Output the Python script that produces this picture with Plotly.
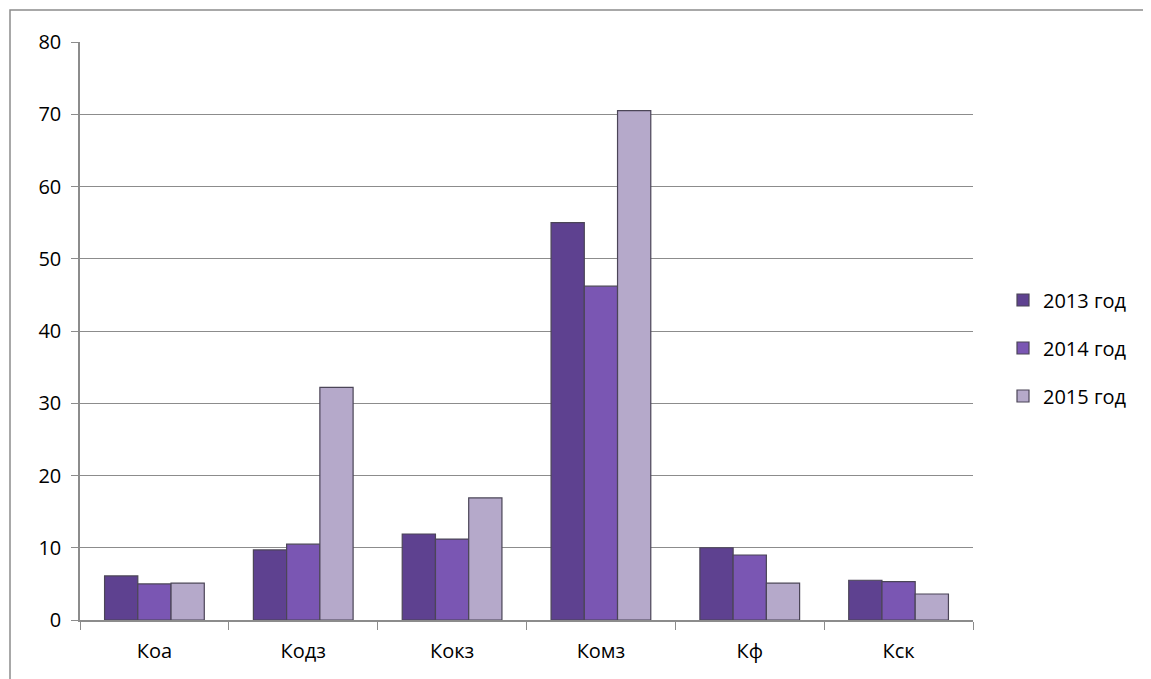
import plotly.graph_objects as go

categories = ["Коа", "Кодз", "Кокз", "Комз", "Кф", "Кск"]
series_names = ["2013 год", "2014 год", "2015 год"]
v2013 = [6.1, 9.7, 11.9, 55.0, 10.0, 5.5]
v2014 = [5.0, 10.5, 11.2, 46.2, 9.0, 5.3]
v2015 = [5.1, 32.2, 16.9, 70.5, 5.1, 3.6]
y_ticks = [0, 10, 20, 30, 40, 50, 60, 70, 80]

colors = ["#5e4190", "#7a56b3", "#b5a9ca"]
values = [v2013, v2014, v2015]

OFF = 8  # page body margin
W, H = 1151 - OFF, 679 - OFF
ml, mt = 80 - OFF, 42 - OFF
mr = W - (973 - OFF)
mb = H - (620 - OFF)
pw, ph = W - ml - mr, H - mt - mb


def px(xpage):
    return (xpage - 80) / pw


def py(ypage):
    return (620 - ypage) / ph


fig = go.Figure()
for i, (name, vals) in enumerate(zip(series_names, values)):
    fig.add_trace(go.Bar(
        x=categories, y=vals, name=name,
        marker=dict(color=colors[i], line=dict(color="#4b4557", width=1.2)),
        legendgroup=name,
    ))

fig.update_layout(
    width=W, height=H,
    margin=dict(l=ml, r=mr, t=mt, b=mb),
    paper_bgcolor="white", plot_bgcolor="white",
    barmode="group", bargap=0.33, bargroupgap=0.0,
    font=dict(family="Open Sans, DejaVu Sans, sans-serif", size=20, color="black"),
    showlegend=True,
    legend=dict(x=px(1003), y=py(348), xanchor="left", yanchor="middle",
                font=dict(size=20), tracegroupgap=19, itemwidth=30),
    shapes=[dict(type="rect", xref="paper", yref="paper",
                 x0=px(10), x1=px(1160),
                 y0=py(700), y1=py(10),
                 line=dict(color="#8c8c8c", width=1.5), fillcolor="rgba(0,0,0,0)", layer="below")],
)
fig.update_xaxes(
    showline=True, linecolor="#8c8c8c", linewidth=1.5,
    ticks="outside", tickson="boundaries", ticklen=8, tickcolor="#8c8c8c",
    showgrid=False, tickfont=dict(size=20), ticklabelstandoff=12,
)
fig.update_yaxes(
    range=[0, 80], tickvals=y_ticks, showline=True, linecolor="#8c8c8c", linewidth=1.5,
    ticks="outside", ticklen=7, tickcolor="#8c8c8c",
    showgrid=True, gridcolor="#8c8c8c", gridwidth=1.2, zeroline=False,
    tickfont=dict(size=20), ticklabelstandoff=6,
)
fig.write_html("out.html")
